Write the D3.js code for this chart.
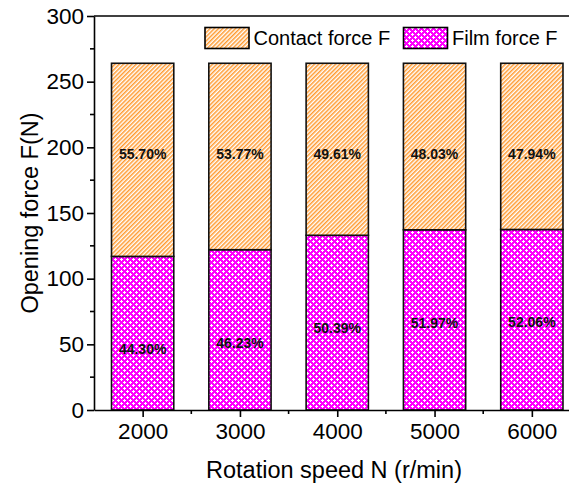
<!DOCTYPE html>
<html>
<head>
<meta charset="utf-8">
<script src="https://cdn.jsdelivr.net/npm/d3@7"></script>
<style>
  html, body { margin: 0; padding: 0; background: #fff; }
  svg { display: block; font-family: "Liberation Sans", Arial, sans-serif; }
</style>
</head>
<body>
<svg id="chart" width="569" height="488"></svg>
<script>
// Opening force split into contact force and film force, by rotation speed
const speeds = ["2000", "3000", "4000", "5000", "6000"];
const filmForce = [116.95, 122.05, 133.03, 137.20, 137.44];     // N
const contactForce = [147.05, 141.95, 130.97, 126.80, 126.56];  // N
const yTicks = [0, 50, 100, 150, 200, 250, 300];
const seriesNames = ["Contact force F", "Film force F"];

const svg = d3.select("#chart");
const plotLeft = 94, plotTop = 16, plotBottom = 410;

const x = d3.scaleLinear().domain([-0.5, 4.5]).range([plotLeft, 580.5]);
const y = d3.scaleLinear().domain([0, 300]).range([plotBottom, plotTop]);
const step = x(1) - x(0);
const barW = step * 0.64;

// fill patterns
const defs = svg.append("defs");
const hatch = defs.append("pattern")
  .attr("id", "hatch").attr("patternUnits", "userSpaceOnUse")
  .attr("width", 3).attr("height", 3)
  .attr("patternTransform", "rotate(45)");
hatch.append("rect").attr("width", 3).attr("height", 3).attr("fill", "#fff");
hatch.append("rect").attr("x", 0).attr("width", 1.5).attr("height", 3).attr("fill", "#ff9a30");

// magenta cross-hatch: small white crosses on a staggered grid
const cross = defs.append("pattern")
  .attr("id", "cross").attr("patternUnits", "userSpaceOnUse")
  .attr("width", 6).attr("height", 6)
  .attr("shape-rendering", "crispEdges");
cross.append("rect").attr("width", 6).attr("height", 6).attr("fill", "#ff00ff");
[[1, 1], [4, 4]].forEach(([px, py]) => {
  cross.append("rect").attr("x", px - 1).attr("y", py).attr("width", 3).attr("height", 1).attr("fill", "#fff");
  cross.append("rect").attr("x", px).attr("y", py - 1).attr("width", 1).attr("height", 3).attr("fill", "#fff");
});

const totals = filmForce.map((f, i) => f + contactForce[i]);

// bars: film force at the bottom, contact force stacked above
const g = svg.append("g");
speeds.forEach((s, i) => {
  const cx = x(i);
  g.append("rect")
    .attr("x", cx - barW / 2).attr("width", barW)
    .attr("y", y(filmForce[i])).attr("height", y(0) - y(filmForce[i]))
    .attr("fill", "url(#cross)").attr("stroke", "#111").attr("stroke-width", 1.6);
  g.append("rect")
    .attr("x", cx - barW / 2).attr("width", barW)
    .attr("y", y(totals[i])).attr("height", y(filmForce[i]) - y(totals[i]))
    .attr("fill", "url(#hatch)").attr("stroke", "#111").attr("stroke-width", 1.6);
});

// percentage labels
const fmtPct = v => (v * 100).toFixed(2) + "%";
const contactLabelAt = [195, 195, 195, 195, 195];
const filmLabelAt = [46, 51, 62, 66, 67];
speeds.forEach((s, i) => {
  g.append("text").attr("x", x(i)).attr("y", y(contactLabelAt[i]))
    .attr("text-anchor", "middle").attr("dy", "0.35em")
    .attr("font-size", 14).attr("font-weight", "bold").attr("fill", "#111")
    .text(fmtPct(contactForce[i] / totals[i]));
  g.append("text").attr("x", x(i)).attr("y", y(filmLabelAt[i]))
    .attr("text-anchor", "middle").attr("dy", "0.35em")
    .attr("font-size", 14).attr("font-weight", "bold").attr("fill", "#111")
    .text(fmtPct(filmForce[i] / totals[i]));
});

// frame top edge
svg.append("line").attr("x1", plotLeft).attr("x2", 600).attr("y1", plotTop).attr("y2", plotTop)
  .attr("stroke", "#000").attr("stroke-width", 1.6);

// y axis
const yAxis = svg.append("g").attr("transform", `translate(${plotLeft},0)`)
  .call(d3.axisLeft(y).tickValues(yTicks).tickSize(7).tickPadding(3).tickSizeOuter(0));
yAxis.selectAll(".tick text").attr("font-size", 22.5).attr("fill", "#000").attr("font-family", "Liberation Sans, Arial, sans-serif");
yAxis.select(".domain").attr("stroke-width", 1.6);
yAxis.selectAll(".tick line").attr("stroke-width", 1.6);
svg.append("g").selectAll("line")
  .data([25, 75, 125, 175, 225, 275]).join("line")
  .attr("x1", plotLeft - 4).attr("x2", plotLeft).attr("y1", d => y(d)).attr("y2", d => y(d))
  .attr("stroke", "#000").attr("stroke-width", 1.6);

// x axis
const xAxis = svg.append("g").attr("transform", `translate(0,${plotBottom})`)
  .call(d3.axisBottom(x).tickValues(d3.range(speeds.length)).tickFormat(i => speeds[i])
    .tickSize(7).tickPadding(6).tickSizeOuter(0));
xAxis.selectAll(".tick text").attr("font-size", 22.5).attr("fill", "#000").attr("font-family", "Liberation Sans, Arial, sans-serif");
xAxis.select(".domain").attr("stroke-width", 1.6);
xAxis.selectAll(".tick line").attr("stroke-width", 1.6);
svg.append("g").selectAll("line")
  .data([0.5, 1.5, 2.5, 3.5]).join("line")
  .attr("x1", d => x(d)).attr("x2", d => x(d)).attr("y1", plotBottom).attr("y2", plotBottom + 4)
  .attr("stroke", "#000").attr("stroke-width", 1.6);

// axis titles
svg.append("text").attr("x", (plotLeft + 580) / 2 - 3).attr("y", 478)
  .attr("text-anchor", "middle").attr("font-size", 23.5).attr("fill", "#000")
  .text("Rotation speed N (r/min)");
svg.append("text").attr("transform", `translate(38,${(plotTop + plotBottom) / 2}) rotate(-90)`)
  .attr("text-anchor", "middle").attr("font-size", 23.5).attr("fill", "#000")
  .text("Opening force F(N)");

// legend
const legendItems = [
  { name: seriesNames[0], fill: "url(#hatch)", x: 205 },
  { name: seriesNames[1], fill: "url(#cross)", x: 403.5 }
];
const lg = svg.append("g");
legendItems.forEach(d => {
  lg.append("rect").attr("x", d.x).attr("y", 27.5).attr("width", 44).attr("height", 21)
    .attr("fill", d.fill).attr("stroke", "#000").attr("stroke-width", 1.6);
  lg.append("text").attr("x", d.x + 48.5).attr("y", 38).attr("dy", "0.35em")
    .attr("font-size", 20).attr("fill", "#000").text(d.name);
});
</script>
</body>
</html>
